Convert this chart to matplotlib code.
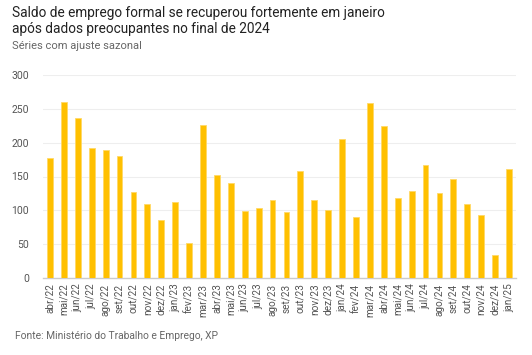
import matplotlib.pyplot as plt
import numpy as np

plt.rcParams['font.family'] = ['Roboto', 'DejaVu Sans']

meses = ['abr/22', 'mai/22', 'jun/22', 'jul/22', 'ago/22', 'set/22', 'out/22', 'nov/22', 'dez/22',
         'jan/23', 'fev/23', 'mar/23', 'abr/23', 'mai/23', 'jun/23', 'jul/23', 'ago/23', 'set/23',
         'out/23', 'nov/23', 'dez/23', 'jan/24', 'fev/24', 'mar/24', 'abr/24', 'mai/24', 'jun/24',
         'jul/24', 'ago/24', 'set/24', 'out/24', 'nov/24', 'dez/24', 'jan/25']
saldo = [177, 260, 237, 192, 189, 181, 127, 109, 85,
         112, 51, 226, 152, 140, 99, 103, 116, 98,
         158, 115, 101, 205, 90, 258, 225, 118, 129,
         167, 125, 146, 110, 93, 34, 161]

fig = plt.figure(figsize=(5.32, 3.55), dpi=100)
ax = fig.add_axes([43/532, 1 - 278/355, (516-43)/532, (278-75)/355])

x = np.arange(len(meses))
ax.bar(x, saldo, width=0.42, color='#FFC000', edgecolor='#FFD966', linewidth=0.6, zorder=3)

ax.set_xlim(-0.5, len(meses) - 0.5)
ax.set_ylim(0, 300)
ax.set_yticks(range(0, 301, 50))
ax.set_xticks(x)
ax.set_xticklabels(meses, rotation=90, fontsize=7.2, color='#555555')
ax.tick_params(axis='y', labelsize=7.5, colors='#555555', length=0, pad=10)
ax.tick_params(axis='x', length=0, pad=4)
ax.grid(axis='y', color='#eeeeee', linewidth=0.8, zorder=0)
for s in ['top', 'right', 'left']:
    ax.spines[s].set_visible(False)
ax.spines['bottom'].set_color('#cccccc')
ax.spines['bottom'].set_linewidth(1)

fig.text(12/532, 1 - 13/355, 'Saldo de emprego formal se recuperou fortemente em janeiro',
         fontsize=9.8, color='#222222', va='center')
fig.text(12/532, 1 - 29/355, 'após dados preocupantes no final de 2024',
         fontsize=9.8, color='#222222', va='center')
fig.text(12/532, 1 - 46/355, 'Séries com ajuste sazonal', fontsize=8, color='#666666', va='center')
fig.text(15/532, 1 - 336/355, 'Fonte: Ministério do Trabalho e Emprego, XP', fontsize=7.4,
         color='#666666', va='center')

fig.savefig('out.png', dpi=100)
